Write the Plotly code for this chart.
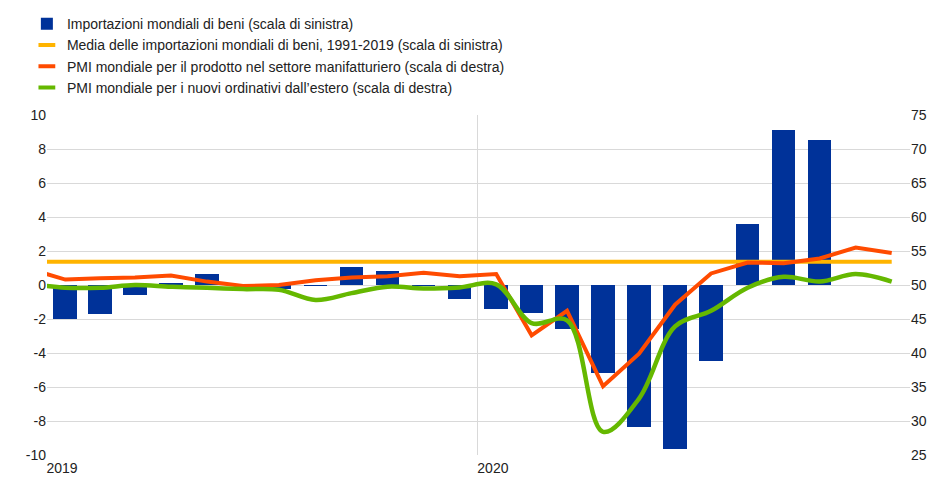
import plotly.graph_objects as go

# mesi (barre da gen 2019 a ott 2020, linee da dic 2018 a dic 2020)
mesi_barre = [f"{a}-{m:02d}-01" for a in (2019, 2020) for m in range(1, 13)][:22]
mesi_linee = ["2018-12-01"] + [f"{a}-{m:02d}-01" for a in (2019, 2020) for m in range(1, 13)]

importazioni = [-2.02, -1.71, -0.61, 0.10, 0.63, -0.03, -0.25, -0.05, 1.04, 0.82, -0.05, -0.84,
                -1.43, -1.63, -2.61, -5.20, -8.37, -9.67, -4.47, 3.61, 9.10, 8.51]
media_importazioni = [1.37] * 25
pmi_prodotto = [52.4, 50.8, 51.0, 51.1, 51.4, 50.5, 49.85, 50.0, 50.7, 51.1, 51.3, 51.8, 51.3,
                51.6, 42.6, 46.2, 35.1, 39.9, 47.1, 51.7, 53.3, 53.2, 53.9, 55.5, 54.7]
pmi_ordinativi = [50.2, 49.6, 49.6, 50.0, 49.75, 49.6, 49.4, 49.3, 47.8, 48.8, 49.75, 49.5, 49.65,
                  50.1, 44.4, 44.8, 28.4, 33.3, 43.9, 46.2, 49.6, 51.2, 50.5, 51.6, 50.5]

tick_sinistra = list(range(-10, 11, 2))
tick_destra = list(range(25, 76, 5))

nomi = ["Importazioni mondiali di beni (scala di sinistra)",
        "Media delle importazioni mondiali di beni, 1991-2019 (scala di sinistra)",
        "PMI mondiale per il prodotto nel settore manifatturiero (scala di destra)",
        "PMI mondiale per i nuovi ordinativi dall\u2019estero (scala di destra)"]
colori = ["#003299", "#ffb400", "#ff4b00", "#65b800"]

giorno_ms = 24 * 3600 * 1000

fig = go.Figure()
fig.add_trace(go.Bar(x=mesi_barre, y=importazioni, name=nomi[0], marker_color=colori[0],
                     marker_line_width=0, xperiod="M1", xperiodalignment="middle",
                     width=20 * giorno_ms, yaxis="y"))
fig.add_trace(go.Scatter(x=mesi_linee, y=media_importazioni, mode="lines", showlegend=False,
                         line=dict(color=colori[1], width=4), xperiod="M1",
                         xperiodalignment="middle", yaxis="y"))
fig.add_trace(go.Scatter(x=mesi_linee, y=pmi_prodotto, mode="lines", showlegend=False,
                         line=dict(color=colori[2], width=4), xperiod="M1",
                         xperiodalignment="middle", yaxis="y2"))
fig.add_trace(go.Scatter(x=mesi_linee, y=pmi_ordinativi, mode="lines", showlegend=False,
                         line=dict(color=colori[3], width=4.5, shape="spline", smoothing=1.0),
                         xperiod="M1", xperiodalignment="middle", yaxis="y2"))

# voci di legenda con simbolo corto
for nome, colore in zip(nomi[1:], colori[1:]):
    fig.add_trace(go.Scatter(x=[None], y=[None], mode="markers", name=nome,
                             marker=dict(symbol="line-ew", size=12,
                                         line=dict(color=colore, width=4))))

fig.update_layout(
    width=943, height=481,
    margin=dict(l=47, r=33, t=115, b=26, autoexpand=False),
    plot_bgcolor="white", paper_bgcolor="white",
    font=dict(family="Arial, Liberation Sans, sans-serif", size=14, color="#222222"),
    bargap=0,
    legend=dict(xref="container", yref="container", x=0.0285, y=0.983, xanchor="left",
                yanchor="top", itemwidth=30, font=dict(size=14), tracegroupgap=0,
                traceorder="normal"),
    xaxis=dict(type="date", range=["2019-01-01", "2021-01-01"],
               tickvals=["2019-01-01", "2020-01-01", "2021-01-01"], ticktext=["2019", "2020", ""],
               ticks="", showgrid=True, gridcolor="#d9d9d9", gridwidth=1,
               ticklabelshift=15, ticklabelstandoff=3, zeroline=False),
    yaxis=dict(range=[-10, 10], tickvals=tick_sinistra, ticktext=[str(v) for v in tick_sinistra],
               showgrid=True, gridcolor="#d9d9d9", zeroline=False, ticks=""),
    yaxis2=dict(range=[25, 75], tickvals=tick_destra, ticktext=[str(v) for v in tick_destra],
                overlaying="y", side="right", showgrid=False, zeroline=False, ticks=""),
)

# niente margine della pagina, la figura parte da 0,0
fig.write_html("out.html", config={"displayModeBar": False},
               post_script="document.body.style.margin='0';")
